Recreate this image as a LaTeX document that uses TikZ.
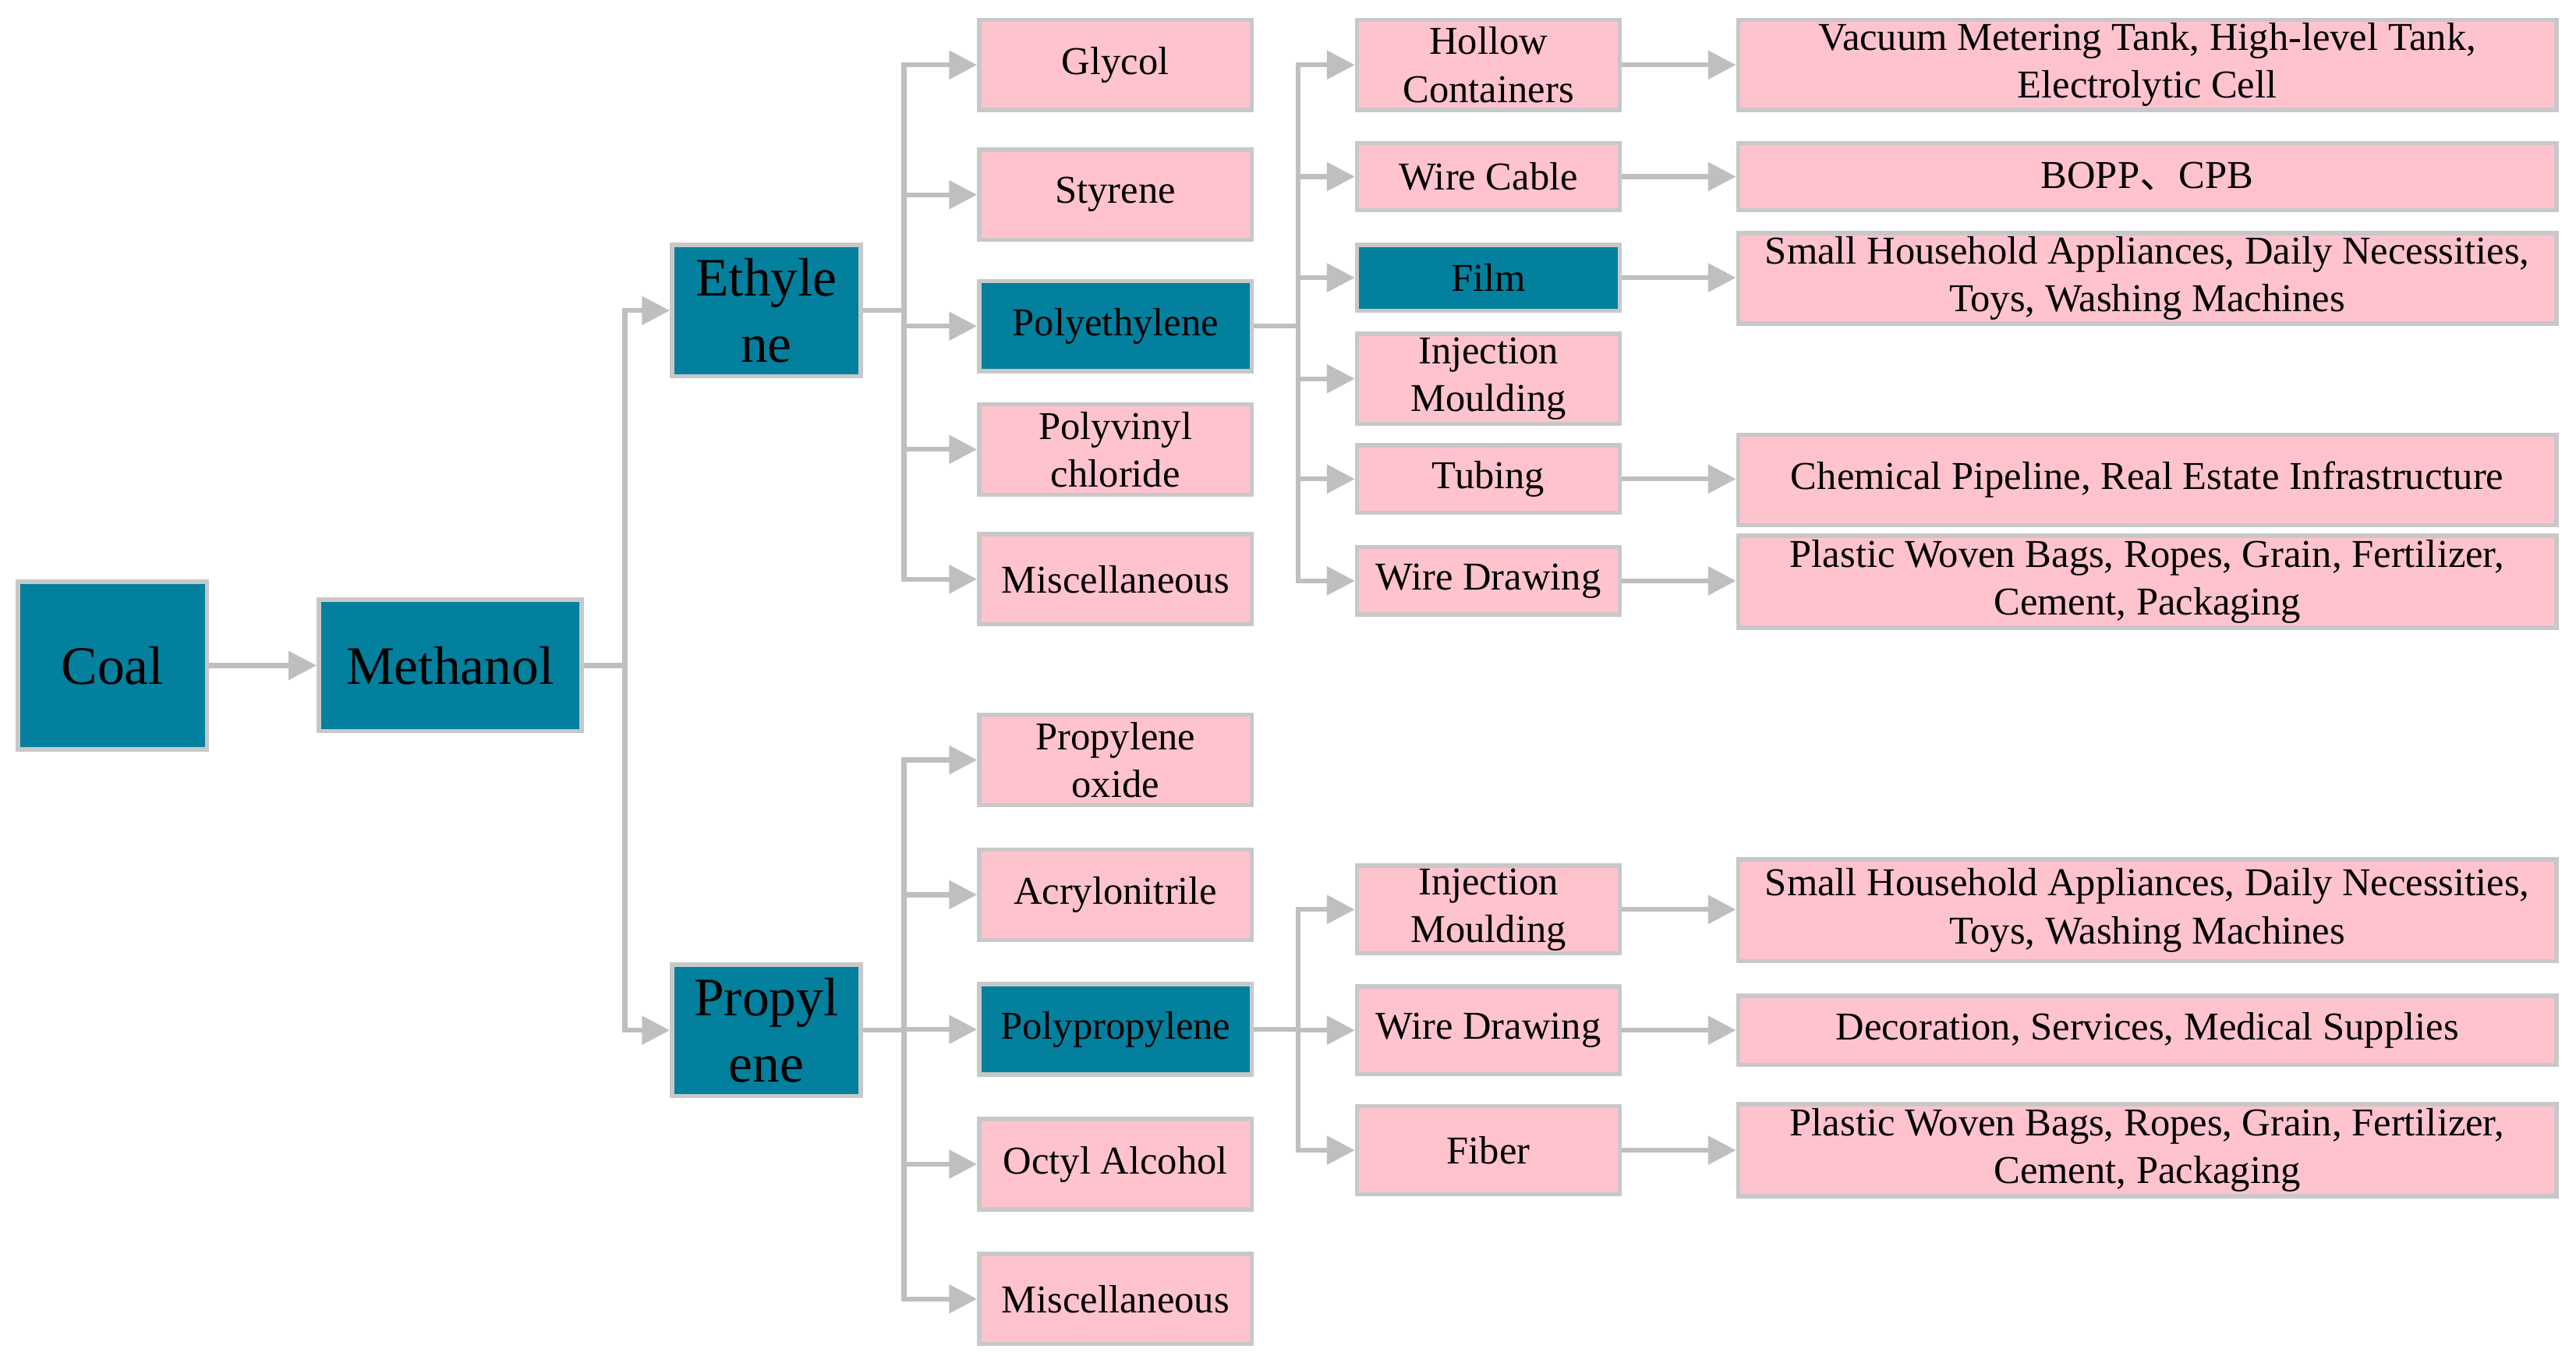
\documentclass[tikz,border=0pt]{standalone}
\usepackage{fontspec}
\setmainfont{Liberation Serif}
\newfontfamily\cjk{Noto Sans CJK SC}
\usetikzlibrary{arrows.meta}
\definecolor{tealbox}{RGB}{2,128,157}
\definecolor{pinkbox}{RGB}{255,195,206}
\definecolor{bordergray}{RGB}{200,200,200}
\definecolor{linegray}{RGB}{191,191,191}
\begin{document}
\begin{tikzpicture}[x=0.5pt,y=-0.5pt,
  box/.style={draw=bordergray, line width=1.3pt, inner sep=0pt, align=center,
    font=\fontsize{12}{14.5}\selectfont, text=black},
  pbox/.style={box, fill=pinkbox},
  tbox/.style={box, fill=tealbox},
  big/.style={font=\fontsize{16.5}{20}\selectfont},
  conn/.style={draw=linegray, line width=1.5pt, line join=miter,
    -{Triangle[length=8.5pt,width=8.5pt]}},
  c3/.style={minimum width=83pt, minimum height=27.5pt},
  c4a/.style={minimum width=80pt, minimum height=27.5pt},
  c4b/.style={minimum width=80pt, minimum height=20.5pt},
  c4c/.style={minimum width=80pt, minimum height=26.75pt},
  c5a/.style={minimum width=249pt, minimum height=27.5pt},
  c5b/.style={minimum width=249pt, minimum height=20.5pt},
]
\useasboundingbox[fill=white] (0,0) rectangle (1568,831.5);

% level 1-2
\node[tbox,big,minimum width=57.5pt,minimum height=51pt] (coal) at (68.5,405) {Coal};
\node[tbox,big,minimum width=80pt,minimum height=40pt] (meth) at (274,405) {Methanol};
\node[tbox,big,minimum width=57.5pt,minimum height=40pt] (eth) at (466.5,189) {Ethyle\\ne};
\node[tbox,big,minimum width=57.5pt,minimum height=40pt] (prop) at (466.5,627) {Propyl\\ene};

% column 3 (ethylene)
\node[pbox,c3] (gly) at (679,39.5) {Glycol};
\node[pbox,c3] (sty) at (679,118.5) {Styrene};
\node[tbox,c3] (pe) at (679,198.5) {Polyethylene};
\node[pbox,c3] (pvc) at (679,273.5) {Polyvinyl\\chloride};
\node[pbox,c3] (misc1) at (679,352.5) {Miscellaneous};
% column 3 (propylene)
\node[pbox,c3] (po) at (679,462.5) {Propylene\\oxide};
\node[pbox,c3] (acr) at (679,544.5) {Acrylonitrile};
\node[tbox,c3] (pp) at (679,626.5) {Polypropylene};
\node[pbox,c3] (oct) at (679,708.5) {Octyl Alcohol};
\node[pbox,c3] (misc2) at (679,790.5) {Miscellaneous};

% column 4 (polyethylene)
\node[pbox,c4a] (hol) at (906,39.5) {Hollow\\Containers};
\node[pbox,c4b] (wc) at (906,107.5) {Wire Cable};
\node[tbox,minimum width=80pt,minimum height=20pt] (film) at (906,169) {Film};
\node[pbox,c4a] (inj1) at (906,230.5) {Injection\\Moulding};
\node[pbox,c4b] (tub) at (906,291.5) {Tubing};
\node[pbox,c4b] (wd1) at (906,353.5) {Wire Drawing};
% column 4 (polypropylene)
\node[pbox,c4c] (inj2) at (906,553.5) {Injection\\Moulding};
\node[pbox,c4c] (wd2) at (906,627) {Wire Drawing};
\node[pbox,c4c] (fib) at (906,700) {Fiber};

% column 5
\node[pbox,c5a] (vac) at (1307,39.5) {Vacuum Metering Tank, High-level Tank,\\Electrolytic Cell};
\node[pbox,c5b] (bopp) at (1307,107.5) {BOPP{\cjk 、}CPB};
\node[pbox,c5a] (sh1) at (1307,169.5) {Small Household Appliances, Daily Necessities,\\Toys, Washing Machines};
\node[pbox,c5a] (chem) at (1307,292) {Chemical Pipeline, Real Estate Infrastructure};
\node[pbox,c5a,minimum height=28pt] (pw1) at (1307,354) {Plastic Woven Bags, Ropes, Grain, Fertilizer,\\Cement, Packaging};
\node[pbox,minimum width=249pt,minimum height=31pt] (sh2) at (1307,554) {Small Household Appliances, Daily Necessities,\\Toys, Washing Machines};
\node[pbox,minimum width=249pt,minimum height=21pt] (dec) at (1307,627) {Decoration, Services, Medical Supplies};
\node[pbox,minimum width=249pt,minimum height=28pt] (pw2) at (1307,700) {Plastic Woven Bags, Ropes, Grain, Fertilizer,\\Cement, Packaging};

% connectors
\draw[conn] (coal.east) -- (meth.west);
\foreach \c in {eth,prop} \draw[conn] (meth.east) -- ++(25,0) |- (\c.west);
\foreach \c in {gly,sty,pe,pvc,misc1} \draw[conn] (eth.east) -- ++(25,0) |- (\c.west);
\foreach \c in {po,acr,pp,oct,misc2} \draw[conn] (prop.east) -- ++(25,0) |- (\c.west);
\foreach \c in {hol,wc,film,inj1,tub,wd1} \draw[conn] (pe.east) -- ++(27,0) |- (\c.west);
\foreach \c in {inj2,wd2,fib} \draw[conn] (pp.east) -- ++(27,0) |- (\c.west);
\foreach \a/\b in {hol/vac,wc/bopp,film/sh1,tub/chem,wd1/pw1,inj2/sh2,wd2/dec,fib/pw2}
  \draw[conn] (\a.east) -- (\a.east -| \b.west);
\end{tikzpicture}
\end{document}
